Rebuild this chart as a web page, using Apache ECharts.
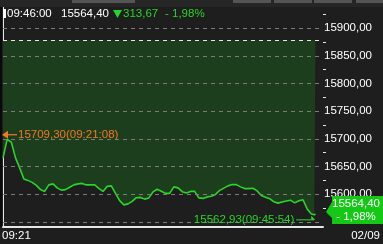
<!DOCTYPE html>
<html>
<head>
<meta charset="utf-8">
<script src="https://cdn.jsdelivr.net/npm/echarts@6/dist/echarts.min.js"></script>
<style>
  html, body { margin: 0; padding: 0; background: #1e1e1e; }
  #main { width: 383px; height: 244px; }
</style>
</head>
<body>
<div id="main"></div>
<script>
  // 20초 간격 체결가 (09:21:00 부터)
  const startTime = '09:21:00';
  const stepSec = 20;
  const prices = [
    15665.7, 15699.0, 15694.0, 15665.7, 15647.7, 15627.8, 15625.1, 15621.5, 15616.1, 15608.5,
    15605.2, 15617.0, 15618.8, 15611.6, 15607.6, 15608.5, 15612.8, 15617.0, 15618.8, 15619.7,
    15617.0, 15617.0, 15617.0, 15610.7, 15605.2, 15614.3, 15615.2, 15601.6, 15588.6, 15580.9,
    15582.7, 15587.2, 15593.9, 15594.4, 15591.3, 15593.5, 15604.3, 15609.2, 15605.6, 15601.6,
    15601.6, 15613.4, 15611.6, 15604.7, 15602.2, 15605.2, 15605.2, 15593.5, 15592.6, 15595.3,
    15596.6, 15599.8, 15607.0, 15611.2, 15615.2, 15617.7, 15617.5, 15613.4, 15610.3, 15610.3,
    15611.0, 15606.1, 15597.8, 15594.8, 15592.1, 15586.6, 15584.1, 15586.1, 15587.9, 15589.4,
    15584.5, 15588.5, 15590.1, 15573.6, 15564.3
  ];
  // 마지막 체결들
  const tailTimes = ['09:45:54', '09:46:00'];
  const tailPrices = [15562.93, 15564.40];

  const prevClose = 15878.07;
  const highPoint = { time: '09:21:08', price: 15709.30 };
  const lowPoint = { time: '09:45:54', price: 15562.93 };
  const lastPrice = 15564.40;
  const change = '313,67';
  const changeRate = '- 1,98%';
  const dateText = '02/09';

  const labelTicks = [15600, 15650, 15700, 15750, 15800, 15850, 15900];
  const majorTicks = [15550, 15600, 15650, 15700, 15750, 15800, 15850, 15900];
  const minorTicks = [15575, 15625, 15675, 15725, 15775, 15825, 15875, 15925];
  const gridValues = [15550, 15600, 15650, 15700, 15750, 15800, 15850, 15900];

  const FONT = '"Liberation Sans", Arial, sans-serif';
  const GREEN = '#2ad42a';
  const ORANGE = '#f07828';

  function toSec(s) {
    const a = s.split(':').map(Number), b = startTime.split(':').map(Number);
    return (a[0] - b[0]) * 3600 + (a[1] - b[1]) * 60 + (a[2] - b[2]);
  }
  function fmt(v) { return v.toFixed(2).replace('.', ','); }

  const seriesData = prices.map((p, i) => [i * stepSec, p]);
  tailTimes.forEach((t, i) => seriesData.push([toSec(t), tailPrices[i]]));

  const chart = echarts.init(document.getElementById('main'));
  chart.setOption({
    backgroundColor: '#1e1e1e',
    animation: false,
    grid: { left: 3, right: 60, top: 7, bottom: 17 },
    xAxis: {
      type: 'value', min: 0, max: 1536,
      axisLine: { show: true, lineStyle: { color: '#e6e6e6', width: 2 } },
      axisTick: { show: false },
      axisLabel: { show: false },
      splitLine: { show: false }
    },
    yAxis: [
      {
        type: 'value', position: 'right', min: 15541, max: 15938,
        axisLine: { show: true, lineStyle: { color: '#e6e6e6', width: 1 } },
        axisTick: { show: true, length: 4, customValues: majorTicks, lineStyle: { color: '#e6e6e6' } },
        axisLabel: {
          customValues: labelTicks, formatter: fmt, color: '#ffffff',
          fontSize: 11.5, fontFamily: FONT, margin: 1
        },
        splitLine: { show: false }
      },
      {
        type: 'value', position: 'right', min: 15541, max: 15938,
        axisLine: { show: false },
        axisTick: { show: true, length: 3, customValues: minorTicks, lineStyle: { color: '#e6e6e6' } },
        axisLabel: { show: false },
        splitLine: { show: false }
      }
    ],
    series: [{
      type: 'line',
      data: seriesData,
      symbol: 'none',
      lineStyle: { color: GREEN, width: 1.6 },
      areaStyle: { origin: prevClose, color: '#1d3e1d', opacity: 1 },
      markLine: {
        silent: true,
        symbol: 'none',
        label: { show: false },
        data: gridValues.map(v => ({ yAxis: v, lineStyle: { color: '#7c7c7c', type: [4, 4], width: 1 } }))
          .concat([{ yAxis: prevClose, lineStyle: { color: '#e8e8e8', type: [4, 4], width: 1 } }])
      },
      z: 2
    }]
  });

  const px = (t, v) => chart.convertToPixel({ gridIndex: 0 }, [t, v]);
  const hi = px(toSec(highPoint.time), highPoint.price);
  const lo = px(toSec(lowPoint.time), lowPoint.price);
  const last = px(toSec(tailTimes[tailTimes.length - 1]), lastPrice);

  const txt = (x, y, text, color, align) => ({
    type: 'text', x: x, y: y, silent: true, z: 110,
    style: { text: text, fill: color, font: '11.5px ' + FONT, align: align || 'left', verticalAlign: 'middle' }
  });

  const boxTop = last[1] - 18, boxBot = last[1] + 10;
  const hy = hi[1] + 1, ly = lo[1] + 5;

  const shapes = [
    // 상단 툴바 흔적
    { type: 'rect', shape: { x: 0, y: 0, width: 383, height: 7 }, style: { fill: '#262626' } },
    { type: 'rect', shape: { x: 72, y: 0, width: 63, height: 3 }, style: { fill: '#555555' } },
    { type: 'rect', shape: { x: 233, y: 0, width: 38, height: 3 }, style: { fill: '#555555' } },
    { type: 'rect', shape: { x: 274, y: 0, width: 38, height: 3 }, style: { fill: '#555555' } },
    { type: 'rect', shape: { x: 314, y: 0, width: 38, height: 3 }, style: { fill: '#555555' } },
    { type: 'rect', shape: { x: 356, y: 0, width: 27, height: 3 }, style: { fill: '#555555' } },
    { type: 'rect', shape: { x: 0, y: 7, width: 2, height: 220 }, style: { fill: '#0a0a0a' } },
    // 헤더
    { type: 'rect', shape: { x: 3, y: 9, width: 3, height: 9 }, style: { fill: '#ffffff' } },
    { type: 'polygon', shape: { points: [[113, 10], [122, 10], [117.5, 18]] }, style: { fill: GREEN } },
    // 고가 화살표
    { type: 'polyline', shape: { points: [[5, hy], [17, hy]] }, style: { stroke: ORANGE, lineWidth: 1.2 } },
    { type: 'polygon', shape: { points: [[2, hy], [8, hy - 4], [8, hy + 4]] }, style: { fill: ORANGE } },
    // 저가 화살표
    { type: 'polyline', shape: { points: [[lo[0] - 18, ly], [lo[0], ly]] }, style: { stroke: GREEN, lineWidth: 1 } },
    { type: 'polygon', shape: { points: [[lo[0] + 1, ly], [lo[0] - 3, ly - 4], [lo[0] - 3, ly]] }, style: { fill: GREEN } },
    // 현재가 박스
    { type: 'polygon', shape: { points: [[326, last[1] - 2], [332, boxTop + 6], [332, boxTop], [383, boxTop], [383, boxBot], [332, boxBot], [332, last[1] + 4]] }, style: { fill: '#16c816' } }
  ].map(s => Object.assign({ silent: true, z: 100 }, s));

  chart.setOption({
    graphic: shapes.concat([
      txt(7, 14, '09:46:00', '#ffffff'),
      txt(61, 14, fmt(lastPrice), '#ffffff'),
      txt(123, 14, change, GREEN),
      txt(165, 14, changeRate, GREEN),
      txt(18, hy, fmt(highPoint.price) + '(' + highPoint.time + ')', ORANGE),
      txt(lo[0] - 20, ly, fmt(lowPoint.price) + '(' + lowPoint.time + ')', GREEN, 'right'),
      txt(356, boxTop + 8, fmt(lastPrice), '#ffffff', 'center'),
      txt(356, boxTop + 21, changeRate, '#ffffff', 'center'),
      txt(2, 236, startTime.slice(0, 5), '#ffffff'),
      txt(380, 236, dateText, '#ffffff', 'right')
    ])
  });
</script>
</body>
</html>
